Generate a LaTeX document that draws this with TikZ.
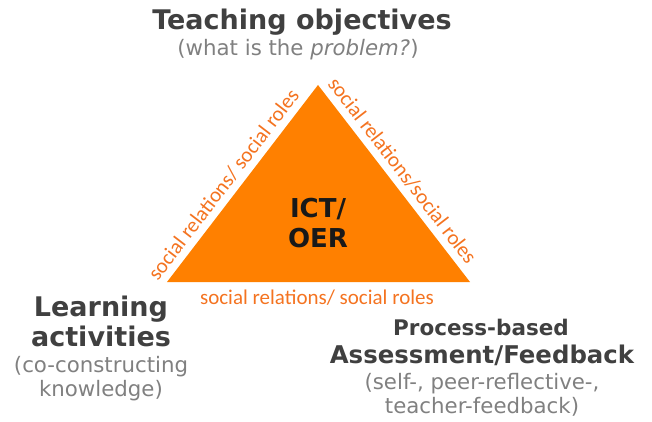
\documentclass[tikz,border=0pt]{standalone}
\usepackage{fontspec}
\setmainfont{DejaVu Sans}
\newfontfamily\labelfont{Carlito}
\definecolor{ictorange}{HTML}{FF8000}
\definecolor{relorange}{HTML}{F47320}
\definecolor{headgray}{HTML}{404040}
\definecolor{notegray}{HTML}{808080}
\begin{document}
\begin{tikzpicture}[x=1pt, y=-1pt, line join=round,
	head/.style={font=\bfseries\fontsize{27}{30}\selectfont, text=headgray, align=center, inner sep=0pt},
	subhead/.style={font=\bfseries\fontsize{21.5}{27}\selectfont, text=headgray, align=center, inner sep=0pt},
	note/.style={font=\fontsize{21.3}{24}\selectfont, text=notegray, align=center, inner sep=0pt},
	rel/.style={font=\labelfont\fontsize{21}{24}\selectfont, text=relorange, sloped, inner sep=6.5pt}]
	\useasboundingbox (0,0) rectangle (652,422);
	% triangle
	\coordinate (top) at (318,85);
	\coordinate (left) at (167,282);
	\coordinate (right) at (470,282);
	\fill[ictorange] (top)--(left)--(right)--cycle;
	\node[font=\bfseries\fontsize{26}{30}\selectfont, text=black!90, align=center, inner sep=0pt] (ict) at (318,223) {ICT/\\OER};
	% relations on the edges
	\path (left)--(top) node[rel, above, pos=.45] (relleft) {social relations/ social roles};
	\path (top)--(right) node[rel, above, pos=.48] (relright) {social relations/social roles};
	\path (left)--(right) node[rel, below, pos=.495, inner sep=7.5pt] (relbottom) {social relations/ social roles};
	% corners
	\node[head] (obj) at (302,22) {Teaching objectives};
	\node[note] (objnote) at (298,50) {(what is the \textit{problem?})};
	\node[head] (learn) at (101,321) {Learning\\activities};
	\node[note] (learnnote) at (101,379) {(co-constructing\\knowledge)};
	\node[subhead] (assess) at (481,327) {Process-based};
	\node[head, font=\bfseries\fontsize{24.4}{28}\selectfont] (assess2) at (482,355) {Assessment/Feedback};
	\node[note] (assessnote) at (482,395) {(self-, peer-reflective-,\\teacher-feedback)};
\end{tikzpicture}
\end{document}
